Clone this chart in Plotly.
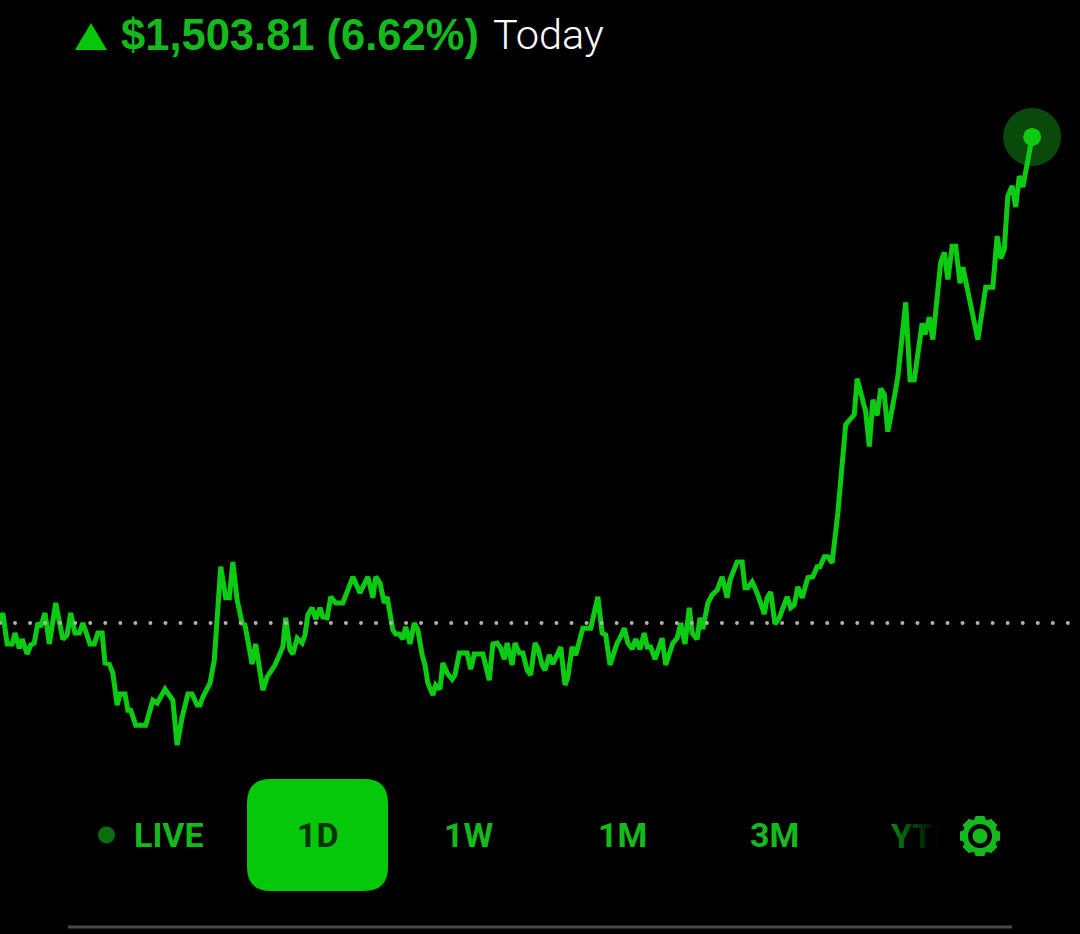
import numpy as np
import plotly.graph_objects as go

# 1D session: minutes since the start and change from previous close in USD
minutes = [0,4,10,17,21,27,31,38,43,48,53,57,63,69,78,88,94,99,105,111,116,126,132,137,143,147,153,158,164,168,175,179,183,190,204,214,220,231,242,248,255,263,269,276,280,284,294,300,309,316,321,326,332,339,343,353,358,368,374,385,396,400,406,410,416,423,427,431,437,442,448,452,458,463,470,480,494,504,515,522,526,532,538,542,550,554,559,564,568,574,580,585,591,595,599,606,610,616,620,626,633,637,643,654,659,664,676,685,690,696,701,706,710,717,721,727,732,738,743,749,753,759,763,769,774,780,785,791,795,801,806,816,827,837,843,848,854,864,868,874,879,885,890,896,902,906,911,917,927,932,942,948,953,959,965,969,976,980,984,991,997,1004,1011,1018,1022,1032,1039,1043,1047,1053,1060,1070,1074,1079,1085,1091,1102,1107,1112,1117,1123,1131,1138,1144,1148,1154,1159,1165,1173,1184,1196,1200,1212,1217,1222,1228,1233,1238,1243,1252,1257,1268,1274,1280,1291,1295,1301,1306,1317,1322,1327,1333,1338,1344,1348,1369,1380,1390,1396,1401,1406,1411,1417,1422,1427,1432,1445]
change_usd = [0,31,-65,-65,-31,-78,-50,-96,-68,-62,0,-12,31,-65,62,-50,-37,31,-31,-31,0,-65,-65,-31,-31,-124,-127,-155,-254,-220,-220,-270,-270,-316,-316,-239,-248,-205,-239,-378,-291,-220,-220,-254,-254,-229,-186,-115,174,78,78,189,71,0,-6,-127,-65,-208,-167,-130,-74,16,-84,-96,-47,-62,-37,25,47,12,47,19,16,81,62,62,143,93,143,78,143,124,62,81,-22,-34,-34,-50,-12,-65,0,-22,-99,-130,-186,-223,-192,-205,-124,-155,-174,-161,-93,-93,-143,-96,-96,-177,-65,-62,-78,-112,-62,-130,-62,-93,-93,-146,-161,-62,-78,-130,-146,-99,-127,-99,-74,-192,-167,-74,-99,-16,-16,81,-31,-37,-130,-62,-47,-16,-62,-81,-50,-81,-31,-74,-74,-112,-47,-130,-62,-47,0,-65,47,-31,-50,16,-19,62,87,102,143,78,133,189,189,109,109,127,93,28,78,96,-3,16,81,47,56,112,78,140,143,174,174,205,205,186,341,614,645,756,654,546,691,642,725,707,592,698,763,992,753,753,927,893,946,877,1116,1147,1063,1166,1166,1051,1101,877,1039,1039,1197,1128,1156,1321,1352,1287,1383,1349,1503.81]
header_change = "$1,503.81 (6.62%)"
header_period = "Today"
range_labels = ["1D", "1W", "1M", "3M"]
range_centers = [318, 469, 622, 774]
live_label = "LIVE"
fade_label = "YTD"

W, H = 1080, 934
USD_PER_PX = 3.094
BASE_PX = 623
MIN_PER_PX = 1.4
GREEN = "#0ccb12"
TEXT_GREEN = "#14b91c"

def px_x(x):
    return x / W
def px_y(y):
    return 1 - y / H
def path_from(points):
    return "M " + " L ".join(f"{px_x(a):.5f},{px_y(b):.5f}" for a, b in points) + " Z"
def circle(cx, cy, r, color):
    return dict(type="circle", xref="paper", yref="paper", x0=px_x(cx-r), x1=px_x(cx+r),
                y0=px_y(cy+r), y1=px_y(cy-r), fillcolor=color, line_width=0, layer="above")

fig = go.Figure()
fig.add_trace(go.Scatter(x=[minutes[-1]], y=[change_usd[-1]], mode="markers",
                         marker=dict(size=58, color="#094a0b", line_width=0), hoverinfo="skip"))
fig.add_trace(go.Scatter(x=minutes, y=change_usd, mode="lines",
                         line=dict(color=GREEN, width=5, shape="linear"), hoverinfo="skip"))
dot_x = np.arange(0, W, 15.04) * MIN_PER_PX
fig.add_trace(go.Scatter(x=dot_x, y=[0]*len(dot_x), mode="markers",
                         marker=dict(size=4, color="#b0b0b0", line_width=0), hoverinfo="skip"))
fig.add_trace(go.Scatter(x=[minutes[-1]], y=[change_usd[-1]], mode="markers",
                         marker=dict(size=18, color=GREEN, line_width=0), hoverinfo="skip"))
# faded range label sits under the overlay strips
fig.add_trace(go.Scatter(x=[891*MIN_PER_PX], y=[(BASE_PX-839)*USD_PER_PX], mode="text", text=[fade_label],
                         textposition="middle right",
                         textfont=dict(family="Roboto", size=34, color=TEXT_GREEN, weight=700), hoverinfo="skip"))

shapes = []
# button
bx0, bx1, by0, by1, r = 247, 388, 779, 891, 24
def P(a, b):
    return f"{px_x(a):.5f},{px_y(b):.5f}"
shapes.append(dict(type="path", xref="paper", yref="paper", fillcolor="#06c80a", line_width=0, layer="below",
    path=f"M {P(bx0+r,by0)} L {P(bx1-r,by0)} Q {P(bx1,by0)} {P(bx1,by0+r)} L {P(bx1,by1-r)} Q {P(bx1,by1)} {P(bx1-r,by1)} "
         f"L {P(bx0+r,by1)} Q {P(bx0,by1)} {P(bx0,by1-r)} L {P(bx0,by0+r)} Q {P(bx0,by0)} {P(bx0+r,by0)} Z"))
# triangle
shapes.append(dict(type="path", xref="paper", yref="paper", fillcolor="#06c80a", line_width=0, layer="above",
                   path=path_from([(75, 50), (107, 50), (91, 23)])))
# bottom rule
shapes.append(dict(type="rect", xref="paper", yref="paper", x0=px_x(68), x1=px_x(1012), y0=px_y(928.5), y1=px_y(925.5),
                   fillcolor="#4a4a4a", line_width=0, layer="above"))
# live dot
shapes.append(circle(106.5, 835, 8.5, "#0a6e0e"))
# YTD fade strips
for i, xs in enumerate(np.arange(890, 958, 4)):
    op = min(1.0, 0.30 + 0.70 * (i / 11.5))
    shapes.append(dict(type="rect", xref="paper", yref="paper", x0=px_x(xs), x1=px_x(xs+4), y0=px_y(860), y1=px_y(812),
                       fillcolor="#000000", opacity=float(op), line_width=0, layer="above"))
# gear
cx, cy = 980, 836
pts = []
for k in range(8):
    a = k * np.pi / 4 - np.pi / 2
    for da, rad in [(-0.32, 17.5), (-0.22, 20.5), (0.22, 20.5), (0.32, 17.5)]:
        pts.append((cx + rad*np.cos(a+da), cy + rad*np.sin(a+da)))
shapes.append(dict(type="path", xref="paper", yref="paper", fillcolor=TEXT_GREEN, line_width=0, layer="above",
                   path=path_from(pts)))
shapes.append(circle(cx, cy, 12, "#000000"))
shapes.append(circle(cx, cy, 7.5, TEXT_GREEN))

def label(text, x, y, color, size, family, anchor="center", weight=400):
    return dict(text=text, x=px_x(x), y=px_y(y), xref="paper", yref="paper", xanchor=anchor, yanchor="middle",
                showarrow=False, font=dict(family=family, size=size, color=color, weight=weight))

ann = [
    label(header_change, 119, 35, TEXT_GREEN, 43.5, "Liberation Sans", "left", 700),
    label(header_period, 490.5, 35, "#ffffff", 41.5, "Roboto", "left", 300),
    label(live_label, 168.5, 835, TEXT_GREEN, 34, "Roboto", "center", 700),
]
for t, c in zip(range_labels, range_centers):
    ann.append(label(t, c, 835, "#04330a" if t == "1D" else TEXT_GREEN, 34, "Roboto", "center", 700))

fig.update_layout(
    width=W, height=H, margin=dict(l=0, r=0, t=0, b=0), paper_bgcolor="#000000", plot_bgcolor="#000000",
    showlegend=False, shapes=shapes, annotations=ann, hovermode=False,
    xaxis=dict(range=[0, W*MIN_PER_PX], visible=False, fixedrange=True),
    yaxis=dict(range=[(BASE_PX-H)*USD_PER_PX, BASE_PX*USD_PER_PX], visible=False, fixedrange=True),
)
fig.write_html("out.html", config=dict(displayModeBar=False),
               post_script="document.body.style.margin='0';document.body.style.background='#000';")
